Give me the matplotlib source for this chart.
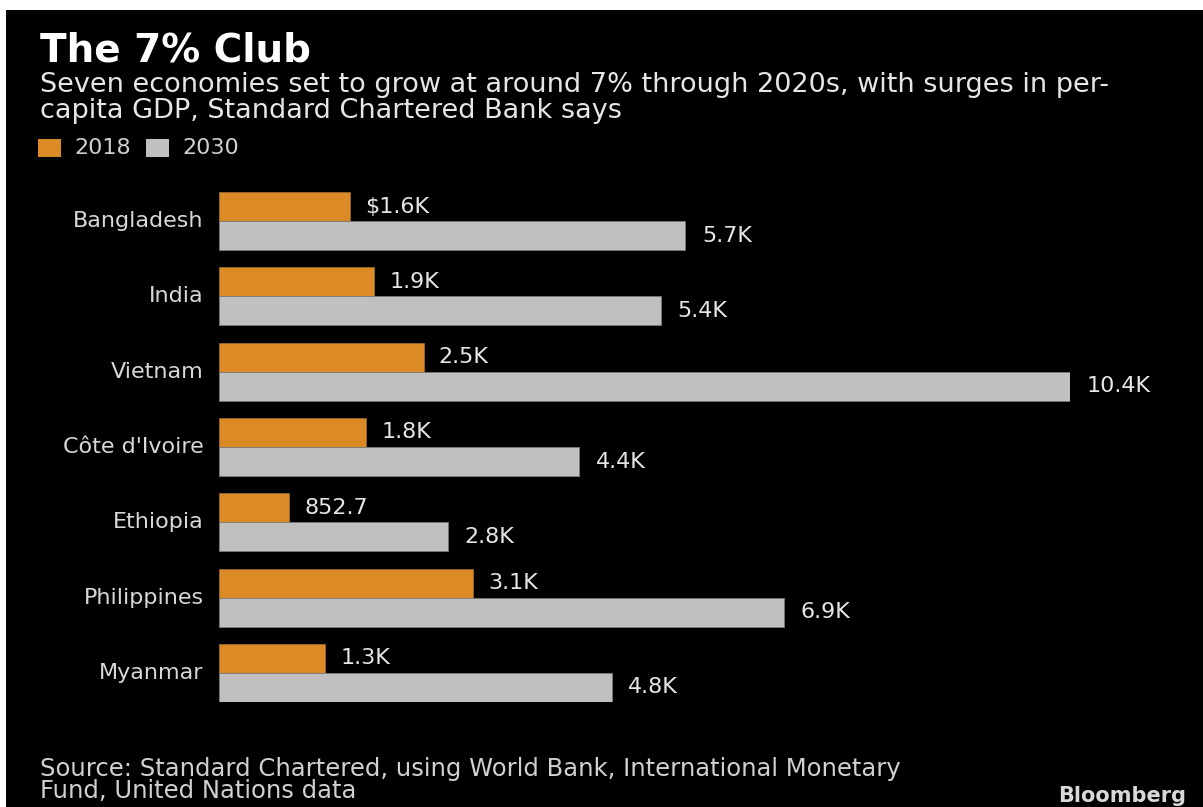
import numpy as np
import matplotlib.pyplot as plt
from matplotlib.patches import Rectangle

# GDP per capita, USD
countries = ["Bangladesh", "India", "Vietnam", "Côte d'Ivoire", "Ethiopia", "Philippines", "Myanmar"]
gdp_2018 = [1600, 1900, 2500, 1800, 852.7, 3100, 1300]
gdp_2030 = [5700, 5400, 10400, 4400, 2800, 6900, 4800]
labels_2018 = ["$1.6K", "1.9K", "2.5K", "1.8K", "852.7", "3.1K", "1.3K"]
labels_2030 = ["5.7K", "5.4K", "10.4K", "4.4K", "2.8K", "6.9K", "4.8K"]

W, H = 1203, 807
orange = "#DB8A26"
grey = "#C0C0C0"
txt = "#E6E6E6"

fig = plt.figure(figsize=(W / 100, H / 100), dpi=100, facecolor="white")

# black panel with a thin white margin top/left
fig.patches.append(Rectangle((6 / W, 0), 1 - 6 / W, 1 - 10 / H,
                             transform=fig.transFigure, facecolor="black",
                             edgecolor="none", zorder=-10))

def px(x, y):
    return x / W, 1 - y / H

# axes placed in pixel coordinates
left, right, top, bottom = 219, 1070, 192, 702
ax = fig.add_axes([left / W, 1 - bottom / H, (right - left) / W, (bottom - top) / H])
ax.set_facecolor("none")
ax.set_zorder(5)

h = 0.385
y = np.arange(len(countries))
ax.barh(y - h / 2, gdp_2018, height=h, color=orange, edgecolor="#9a6a2a", linewidth=0.6)
ax.barh(y + h / 2, gdp_2030, height=h, color=grey, edgecolor="#7a7a7a", linewidth=0.6)

for i in range(len(countries)):
    ax.annotate(labels_2018[i], (gdp_2018[i], y[i] - h / 2), xytext=(11, 0),
                textcoords="offset points", va="center", ha="left",
                color=txt, fontsize=16)
    ax.annotate(labels_2030[i], (gdp_2030[i], y[i] + h / 2), xytext=(12, 0),
                textcoords="offset points", va="center", ha="left",
                color=txt, fontsize=16)

ax.set_xlim(0, 10400)
ax.set_ylim(len(countries) - 1 + h, -h)
ax.set_yticks(y)
ax.set_yticklabels(countries, color="#D8D8D8", fontsize=16, va="center")
ax.tick_params(axis="y", length=0, pad=11)
ax.set_xticks([])
for s in ax.spines.values():
    s.set_visible(False)

# titles
fig.text(*px(40, 50), "The 7% Club", fontsize=28, fontweight="bold",
         color="white", va="center", ha="left")
fig.text(*px(40, 98), "Seven economies set to grow at around 7% through 2020s, with surges in per-\n"
         "capita GDP, Standard Chartered Bank says", fontsize=19.5, color=txt,
         va="center", ha="left", linespacing=0.95)

# legend
for xs, col, lab in [(38, orange, "2018"), (146, grey, "2030")]:
    fig.patches.append(Rectangle(px(xs, 157), 23 / W, 18 / H, transform=fig.transFigure,
                                 facecolor=col, edgecolor="none"))
    fig.text(*px(xs + 36, 148), lab, fontsize=16, color="#D0D0D0", va="center", ha="left")

# source and branding
fig.text(*px(40, 780), "Source: Standard Chartered, using World Bank, International Monetary\n"
         "Fund, United Nations data", fontsize=17.5, color="#D0D0D0",
         va="center", ha="left", linespacing=0.9)
fig.text(*px(1186, 796), "Bloomberg", fontsize=15, fontweight="bold",
         color="#D8D8D8", va="center", ha="right")

fig.savefig("out.png", dpi=100, facecolor=fig.get_facecolor())
